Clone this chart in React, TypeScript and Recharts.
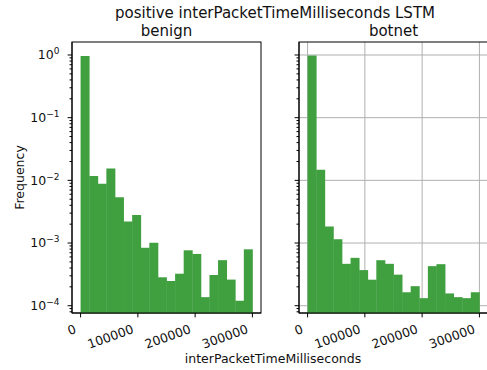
import { Bar, BarChart, CartesianGrid, XAxis, YAxis, usePlotArea } from "recharts";

// histogram bins: 20 bins of 15000 ms between 0 and 300000
const binCenters = [
  7500, 22500, 37500, 52500, 67500, 82500, 97500, 112500, 127500, 142500,
  157500, 172500, 187500, 202500, 217500, 232500, 247500, 262500, 277500, 292500
];

const benignFreq = [
  0.96, 0.0117, 0.0088, 0.0154, 0.0054, 0.0022, 0.0028, 0.00084, 0.00101, 0.000284,
  0.000248, 0.000324, 0.000766, 0.00067, 0.000137, 0.000309, 0.000533, 0.000261, 0.00012, 0.000794
];

const botnetFreq = [
  0.985, 0.0147, 0.00184, 0.00115, 0.000466, 0.00058, 0.00037, 0.00026, 0.000532, 0.000466,
  0.000313, 0.000164, 0.000205, 0.000132, 0.000428, 0.00046, 0.000157, 0.000137, 0.000132, 0.000164
];

const xTicks = [0, 100000, 200000, 300000];
const decadeTicks = [1e-4, 1e-3, 1e-2, 1e-1, 1];
const minorTicks = [8e-5, 9e-5].concat(
  decadeTicks.slice(0, -1).flatMap((d) => [2, 3, 4, 5, 6, 7, 8, 9].map((m) => m * d))
);
const yTicks = [...decadeTicks, ...minorTicks].sort((a, b) => a - b);

const rows = binCenters.map((bin, i) => ({
  bin,
  benign: benignFreq[i],
  botnet: botnetFreq[i]
}));

const FONT = "DejaVu Sans, sans-serif";
const TEXT = "#111";
const BAR_COLOR = "#40a040";
const X_DOMAIN: [number, number] = [-15000, 315000];
const Y_DOMAIN: [number, number] = [7.65e-5, 1.612];

function Frame() {
  const area = usePlotArea();
  if (!area) return null;
  return (
    <rect
      x={area.x}
      y={area.y}
      width={area.width}
      height={area.height}
      fill="none"
      stroke="#000"
      strokeWidth={1}
    />
  );
}

function YTick(props: any) {
  const { x, y, payload, showLabel } = props;
  const v = payload.value;
  const major = decadeTicks.some((d) => Math.abs(d - v) / d < 1e-9);
  const len = major ? 4.4 : 2.5;
  const exp = Math.round(Math.log10(v));
  return (
    <g>
      <line x1={x - len} x2={x} y1={y} y2={y} stroke="#000" strokeWidth={1} />
      {major && showLabel && (
        <text
          x={x - 12.5}
          y={y + 4.4}
          textAnchor="end"
          fontFamily={FONT}
          fontSize={12.5}
          fill={TEXT}
        >
          10
          <tspan fontSize={9} dy={-5}>
            {exp < 0 ? `\u2212${-exp}` : `${exp}`}
          </tspan>
        </text>
      )}
    </g>
  );
}

function XTick(props: any) {
  const { x, y, payload } = props;
  const ex = x - 3.5;
  const ey = y + 19.5;
  return (
    <g>
      <line x1={x} x2={x} y1={y} y2={y + 4.4} stroke="#000" strokeWidth={1} />
      <text
        x={ex}
        y={ey}
        textAnchor="end"
        transform={`rotate(-20 ${ex} ${ey})`}
        fontFamily={FONT}
        fontSize={12.5}
        fill={TEXT}
      >
        {payload.value}
      </text>
    </g>
  );
}

function Histogram({ dataKey, showLabels, grid }: { dataKey: string; showLabels: boolean; grid: boolean }) {
  return (
    <BarChart
      width={270}
      height={370}
      data={rows}
      margin={{ top: 42, right: 9, bottom: 0, left: 0 }}
      barCategoryGap={0}
      barGap={0}
    >
      <XAxis
        dataKey="bin"
        type="number"
        domain={X_DOMAIN}
        allowDataOverflow
        ticks={xTicks}
        interval={0}
        tickSize={0}
        tickMargin={0}
        height={57}
        axisLine={{ stroke: "#000", strokeWidth: 1 }}
        tick={(p: any) => <XTick {...p} />}
      />
      <YAxis
        type="number"
        scale="log"
        domain={Y_DOMAIN}
        allowDataOverflow
        ticks={yTicks}
        interval={0}
        tickSize={0}
        tickMargin={0}
        width={72}
        axisLine={{ stroke: "#000", strokeWidth: 1 }}
        tick={(p: any) => <YTick {...p} showLabel={showLabels} />}
      />
      <Bar dataKey={dataKey} fill={BAR_COLOR} isAnimationActive={false} />
      {grid && (
        <CartesianGrid
          stroke="#b0b0b0"
          strokeWidth={1}
          horizontalValues={decadeTicks}
          verticalValues={xTicks}
        />
      )}
      <Frame />
    </BarChart>
  );
}

export default function App() {
  return (
    <div
      style={{
        position: "absolute",
        left: 0,
        top: 0,
        width: 487,
        height: 370,
        overflow: "hidden",
        background: "#fff"
      }}
    >
      <div style={{ position: "absolute", left: 0, top: 0 }}>
        <Histogram dataKey="benign" showLabels grid={false} />
      </div>
      <div style={{ position: "absolute", left: 227, top: 0 }}>
        <Histogram dataKey="botnet" showLabels={false} grid />
      </div>
      <svg
        width={487}
        height={370}
        style={{ position: "absolute", left: 0, top: 0, pointerEvents: "none" }}
        fontFamily={FONT}
        fill={TEXT}
      >
        <text x={275} y={18} textAnchor="middle" fontSize={15}>
          positive interPacketTimeMilliseconds LSTM
        </text>
        <text x={166.5} y={35.5} textAnchor="middle" fontSize={15}>
          benign
        </text>
        <text x={393.5} y={35.5} textAnchor="middle" fontSize={15}>
          botnet
        </text>
        <text x={273} y={362.5} textAnchor="middle" fontSize={12.5}>
          interPacketTimeMilliseconds
        </text>
        <text
          x={23.5}
          y={177.5}
          textAnchor="middle"
          fontSize={12.5}
          transform="rotate(-90 23.5 177.5)"
        >
          Frequency
        </text>
      </svg>
    </div>
  );
}
